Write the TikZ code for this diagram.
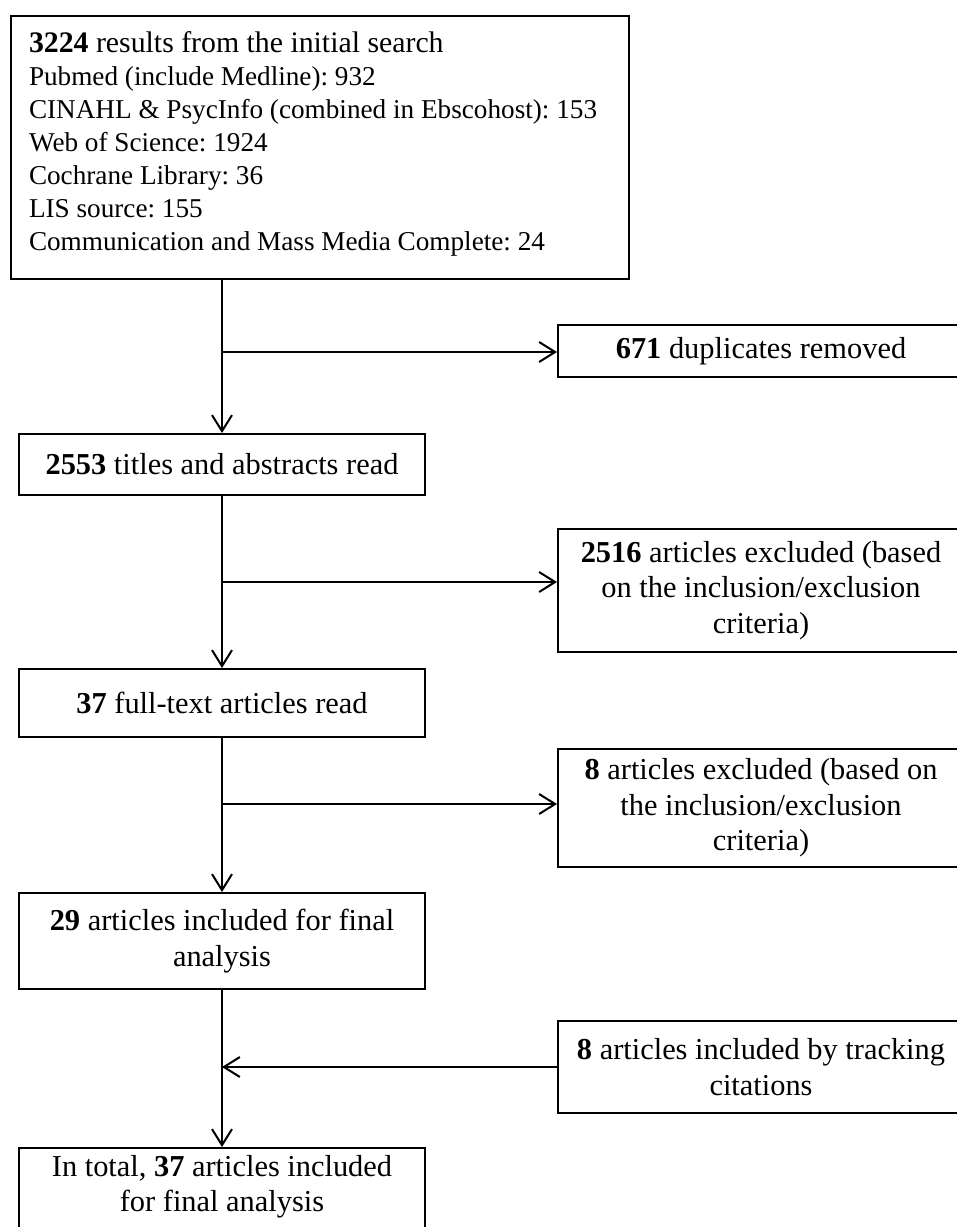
\documentclass[tikz,border=0pt]{standalone}
\usepackage{fontspec}
\setmainfont{Liberation Serif}
\usetikzlibrary{arrows.meta}
\frenchspacing

\begin{document}
\begin{tikzpicture}[x=0.5pt, y=-0.5pt,
    box/.style={draw, line width=1pt, minimum width=203pt, align=center, inner sep=2pt,
      font=\fontsize{15.2}{17.75}\selectfont},
    flow/.style={line width=1pt, -{Straight Barb[length=8pt, width=10pt]}}]
    \useasboundingbox (0,0) rectangle (957,1227);
    \clip (0,0) rectangle (957,1227);
    \node[draw, line width=1pt, anchor=north west, text width=291pt, align=flush left,
      inner xsep=9pt, inner ysep=8pt, font=\fontsize{13.6}{16.5}\selectfont] (search) at (10,15) {
      {\fontsize{14.9}{16.5}\selectfont\textbf{3224} results from the initial search}\\
      Pubmed (include Medline): 932\\
      CINAHL \& PsycInfo (combined in Ebscohost): 153\\
      Web of Science: 1924\\
      Cochrane Library: 36\\
      LIS source: 155\\
      Communication and Mass Media Complete: 24\rule[-6pt]{0pt}{6pt}};
    \node[box, minimum height=30.5pt] (titles) at (222,464.5) {\textbf{2553} titles and abstracts read};
    \node[box, minimum height=34pt] (fulltext) at (222,703) {\textbf{37} full-text articles read};
    \node[box, minimum height=48pt] (included) at (222,941) {\textbf{29} articles included for final\\ analysis};
    \node[box, anchor=north, inner ysep=3.5pt] (total) at (222,1147) {In total, \textbf{37} articles included\\ for final analysis\rule[-20pt]{0pt}{20pt}};
    \node[box, minimum height=26pt] (dup) at (761,351) {\textbf{671} duplicates removed};
    \node[box, minimum height=61.5pt] (excl1) at (761,590.5) {\textbf{2516} articles excluded (based\\ on the inclusion/exclusion\\ criteria)};
    \node[box, minimum height=59pt] (excl2) at (761,808) {\textbf{8} articles excluded (based on\\ the inclusion/exclusion\\ criteria)};
    \node[box, minimum height=46pt] (tracking) at (761,1067) {\textbf{8} articles included by tracking\\ citations};
    \coordinate (fork1) at (222,352);
    \coordinate (fork2) at (222,582);
    \coordinate (fork3) at (222,804);
    \draw[flow] (titles.north |- search.south) -- (titles.north);
    \draw[flow] (fork1) -- (fork1 -| dup.west);
    \draw[flow] (titles) -- (fulltext);
    \draw[flow] (fork2) -- (fork2 -| excl1.west);
    \draw[flow] (fulltext) -- (included);
    \draw[flow] (fork3) -- (fork3 -| excl2.west);
    \draw[flow] (included) -- (total);
    \draw[flow] (tracking.west) -- (tracking.west -| total.north);
\end{tikzpicture}
\end{document}
